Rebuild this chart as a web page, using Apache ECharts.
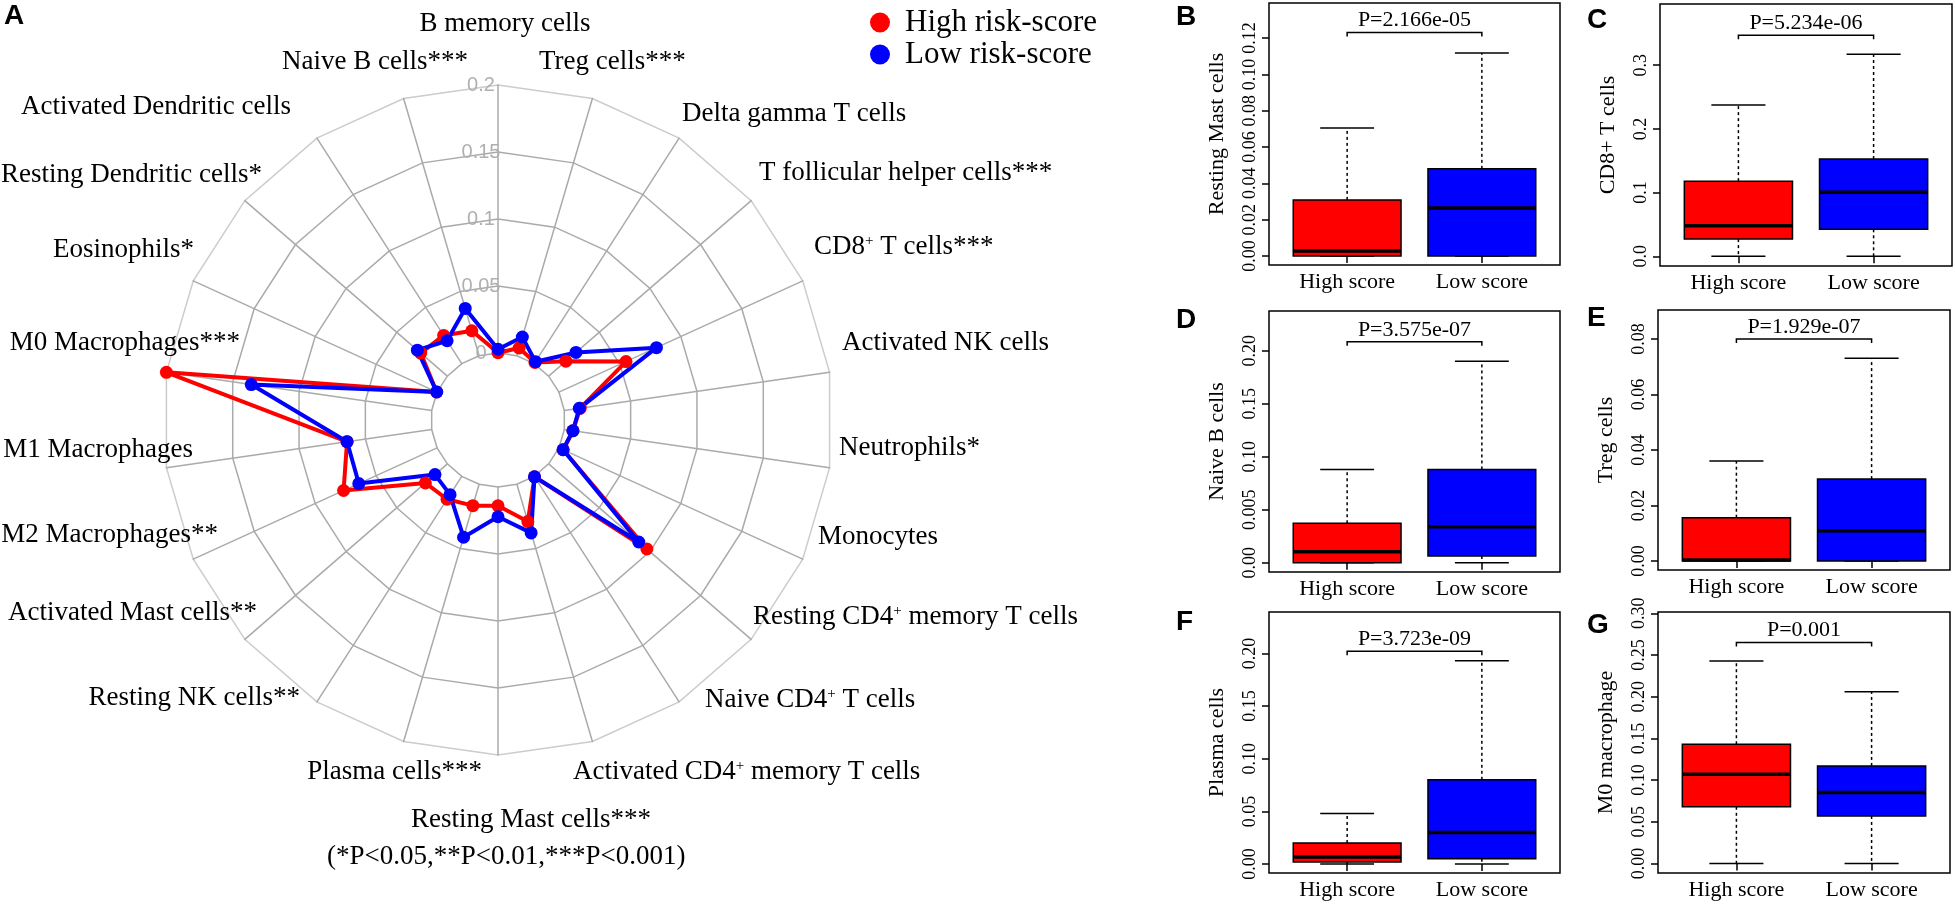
<!DOCTYPE html>
<html><head><meta charset="utf-8">
<script src="https://cdn.jsdelivr.net/npm/echarts@6/dist/echarts.min.js"></script>
<style>html,body{margin:0;padding:0;background:#fff;} #c{width:1955px;height:910px;}</style>
</head><body><div id="c"></div>
<script>
// ---- Radar (panel A) data, clockwise from top ----
const cellTypes = ['B memory cells','Treg cells***','Delta gamma T cells','T follicular helper cells***','CD8+ T cells***','Activated NK cells','Neutrophils*','Monocytes','Resting CD4+ memory T cells','Naive CD4+ T cells','Activated CD4+ memory T cells','Resting Mast cells***','Plasma cells***','Resting NK cells**','Activated Mast cells**','M2 Macrophages**','M1 Macrophages','M0 Macrophages***','Eosinophils*','Resting Dendritic cells*','Activated Dendritic cells','Naive B cells***'];
const highRisk = [0.0002,0.006,0.001,0.017,0.055,0.012,0.0065,0.0034,0.097,0.0004,0.029,0.014,0.0166,0.0203,0.0217,0.0767,0.0638,0.200,0.0003,0.0263,0.025,0.0194];
const lowRisk  = [0.0028,0.0145,0.0017,0.027,0.080,0.0113,0.0065,0.0034,0.089,0.0004,0.0378,0.0222,0.0412,0.0162,0.0122,0.0642,0.0638,0.136,0.0003,0.0296,0.0203,0.0368];
const radialLabels = ['0','0.05','0.1','0.15','0.2'];
const seriesNames = ['High risk-score','Low risk-score'];
const noteText = '(*P<0.05,**P<0.01,***P<0.001)';

// ---- Boxplot panels: [min, q1, median, q3, max] for High score / Low score ----
const groups = ['High score','Low score'];
const restingMast = [[0,0,0.0028,0.0309,0.0705],[0,0,0.0264,0.048,0.1118]];
const cd8T        = [[0,0.027,0.048,0.118,0.2375],[0,0.0424,0.1005,0.1527,0.317]];
const naiveB      = [[0,0,0.0104,0.0372,0.088],[0,0.0063,0.034,0.088,0.19]];
const tregCells   = [[0,0,0.0004,0.0156,0.036],[0,0,0.0109,0.0295,0.073]];
const plasmaCells = [[0,0.002,0.0067,0.02,0.048],[0,0.005,0.03,0.08,0.193]];
const m0Macro     = [[0,0.068,0.107,0.143,0.2428],[0,0.057,0.085,0.117,0.206]];
const panelTitles = ['Resting Mast cells','CD8+ T cells','Naive B cells','Treg cells','Plasma cells','M0 macrophage'];
const pValues = ['P=2.166e-05','P=5.234e-06','P=3.575e-07','P=1.929e-07','P=3.723e-09','P=0.001'];
const bracketY = [0.123,0.347,0.2085,0.080,0.202,0.265];
const ticksB = [0,0.02,0.04,0.06,0.08,0.10,0.12];
const tickLabelsB = ['0.00','0.02','0.04','0.06','0.08','0.10','0.12'];
const ticksC = [0,0.1,0.2,0.3];
const tickLabelsC = ['0.0','0.1','0.2','0.3'];
const ticksD = [0,0.05,0.10,0.15,0.20];
const tickLabelsD = ['0.00','0.005','0.10','0.15','0.20'];
const ticksE = [0,0.02,0.04,0.06,0.08];
const tickLabelsE = ['0.00','0.02','0.04','0.06','0.08'];
const ticksF = [0,0.05,0.10,0.15,0.20];
const tickLabelsF = ['0.00','0.05','0.10','0.15','0.20'];
const ticksG = [0,0.05,0.10,0.15,0.20,0.25,0.30];
const tickLabelsG = ['0.00','0.05','0.10','0.15','0.20','0.25','0.30'];

// ---- layout / style ----
const RED = '#ff0000', BLUE = '#0000ff';
const SERIF = 'Liberation Serif';
const NAME_FS = 27;
// where each radar name sits relative to the radar centre, px (layout only):
// sides: [near-edge x, vertical centre]; top: [centre x, bottom edge]; bottom: [centre x, top edge]
const nameOffset = [[7,-382.5],[41,-358],[184,-306],[261,-247],[316,-173],[344,-77],[341,28],[320,117],[255,197],[207,280],[75,352],[33,386.5],[-16,352],[-198,278],[-241,193],[-280,115],[-305,30],[-258,-77],[-304,-170],[-236,-245],[-207,-313],[-30,-358]];

// ECharts radar runs counter-clockwise: keep first, reverse the rest
const ccw = arr => [arr[0]].concat(arr.slice(1).reverse());

const rich = {
  t:{fontFamily:SERIF, fontSize:NAME_FS, color:'#000', lineHeight:NAME_FS},
  s:{fontFamily:SERIF, fontSize:15, color:'#000', verticalAlign:'top'}
};
cellTypes.forEach((n, i) => {
  const [dx, dy] = nameOffset[i];
  const centred = (i === 0 || i === 11);
  const vh = centred ? Math.abs(dy) : Math.abs(2 * dy);
  rich['h' + i] = {fontSize:NAME_FS, lineHeight:NAME_FS, width: centred ? Math.abs(2 * dx) : Math.abs(dx)};
  rich['v' + i] = {fontSize:4, height:vh, lineHeight:vh};
});
function nameFormatter(name) {
  const i = cellTypes.indexOf(name);
  const [dx, dy] = nameOffset[i];
  const parts = name.split('+');
  let line = parts.length > 1 ? '{t|' + parts[0] + '}{s|+}{t|' + parts[1] + '}' : '{t|' + name + '}';
  const h = '{h' + i + '| }';
  if (i === 0 || i === 11) line = dx >= 0 ? h + line : line + h;
  else if (i < 11) line = h + line;
  else line = line + h;
  const v = '{v' + i + '| }';
  return dy < 0 ? line + '\n' + v : v + '\n' + line;
}

const chart = echarts.init(document.getElementById('c'));

const panels = [
  {data:restingMast, ticks:ticksB, labels:tickLabelsB, grid:{left:1269,top:3,width:291,height:262}, y:[-0.00495,0.1393]},
  {data:cd8T,        ticks:ticksC, labels:tickLabelsC, grid:{left:1660,top:4,width:292,height:262}, y:[-0.0152,0.396]},
  {data:naiveB,      ticks:ticksD, labels:tickLabelsD, grid:{left:1269,top:311,width:291,height:261}, y:[-0.0088,0.2375]},
  {data:tregCells,   ticks:ticksE, labels:tickLabelsE, grid:{left:1658,top:310,width:292,height:260}, y:[-0.00324,0.0904]},
  {data:plasmaCells, ticks:ticksF, labels:tickLabelsF, grid:{left:1269,top:612,width:291,height:261}, y:[-0.0085,0.2393]},
  {data:m0Macro,     ticks:ticksG, labels:tickLabelsG, grid:{left:1658,top:612,width:292,height:261}, y:[-0.0114,0.3016]}
];
const letterPos = {A:[4,2],B:[1176,3],C:[1587,6],D:[1176,306],E:[1587,304],F:[1176,608],G:[1587,611]};

const grids = [], xAxes = [], yAxes = [], series = [];
panels.forEach((p, i) => {
  grids.push(Object.assign({show:true, borderColor:'#000', borderWidth:1.5, backgroundColor:'transparent', containLabel:false}, p.grid));
  xAxes.push({type:'value', gridIndex:i, min:0.42, max:2.58,
    axisLine:{show:false}, splitLine:{show:false},
    axisTick:{show:true, customValues:[1,2], length:7, lineStyle:{color:'#000', width:1.5}},
    axisLabel:{show:true, customValues:[1,2], margin:6, color:'#000', fontFamily:SERIF, fontSize:22,
      formatter: v => groups[Math.round(v) - 1]}});
  yAxes.push({type:'value', gridIndex:i, min:p.y[0], max:p.y[1],
    name: panelTitles[i], nameLocation:'middle', nameGap:41,
    nameTextStyle:{color:'#000', fontFamily:SERIF, fontSize:22},
    axisLine:{show:false}, splitLine:{show:false},
    axisTick:{show:true, customValues:p.ticks, length:7, lineStyle:{color:'#000', width:1.5}},
    axisLabel:{show:true, customValues:p.ticks, rotate:90, margin:10, color:'#000', fontFamily:SERIF, fontSize:18,
      formatter: v => { const k = p.ticks.findIndex(t => Math.abs(t - v) < 1e-9); return k >= 0 ? p.labels[k] : ''; }}});
  const boxColors = [RED, BLUE];
  series.push({type:'custom', xAxisIndex:i, yAxisIndex:i, silent:true,
    data: p.data.map((s, k) => [k + 1].concat(s)),
    encode:{x:0, y:[1,2,3,4,5]},
    renderItem: (params, api) => {
      const x = api.value(0), mn = api.value(1), q1 = api.value(2), md = api.value(3), q3 = api.value(4), mx = api.value(5);
      const c = (a, b) => api.coord([a, b]);
      const bw = 0.4, cw = 0.2;
      const ln = (a, b, st) => ({type:'line', shape:{x1:a[0], y1:a[1], x2:b[0], y2:b[1]}, style:st});
      const solid = {stroke:'#000', lineWidth:1.5};
      const dashed = {stroke:'#000', lineWidth:1.5, lineDash:[3,3]};
      const bl = c(x - bw, q1), tr = c(x + bw, q3);
      return {type:'group', children:[
        ln(c(x, q3), c(x, mx), dashed),
        ln(c(x, q1), c(x, mn), dashed),
        ln(c(x - cw, mx), c(x + cw, mx), solid),
        ln(c(x - cw, mn), c(x + cw, mn), solid),
        {type:'rect', shape:{x:bl[0], y:tr[1], width:tr[0] - bl[0], height:bl[1] - tr[1]}, style:{fill:boxColors[params.dataIndex], stroke:'#000', lineWidth:1.5}},
        ln(c(x - bw, md), c(x + bw, md), {stroke:'#000', lineWidth:3.5})
      ]};
    }});
  series.push({type:'custom', xAxisIndex:i, yAxisIndex:i, silent:true,
    data:[[1.5, bracketY[i]]], encode:{x:0, y:1},
    renderItem: (params, api) => {
      const yb = api.value(1);
      const a = api.coord([1, yb]), b = api.coord([2, yb]), m = api.coord([1.5, yb]);
      return {type:'group', children:[
        {type:'polyline', shape:{points:[[a[0], a[1] + 4], a, b, [b[0], b[1] + 4]]}, style:{stroke:'#000', lineWidth:1.5, fill:null}},
        {type:'text', x:m[0], y:m[1] - 12, style:{text:pValues[i], fill:'#000', font:'22px "Liberation Serif"', align:'center', verticalAlign:'middle'}}
      ]};
    }});
});

// radar series (red first, blue on top)
[highRisk, lowRisk].forEach((vals, k) => {
  const col = k === 0 ? RED : BLUE;
  series.push({type:'radar', radarIndex:0, name:seriesNames[k], symbol:'circle', symbolSize:13,
    lineStyle:{color:col, width:4}, itemStyle:{color:col},
    data:[{name:seriesNames[k], value:ccw(vals)}]});
});

const titles = Object.keys(letterPos).map(L => ({text:L, left:letterPos[L][0], top:letterPos[L][1], padding:0,
  textStyle:{fontFamily:'Liberation Sans', fontWeight:'bold', fontSize:28, color:'#000'}}));
titles.push({text:noteText, left:327, top:843, padding:0,
  textStyle:{fontFamily:SERIF, fontWeight:'normal', fontSize:27, color:'#000'}});

chart.setOption({
  backgroundColor:'#fff',
  animation:false,
  title:titles,
  legend:{orient:'vertical', left:865, top:2, icon:'circle', itemWidth:40, itemHeight:20, itemGap:1,
    textStyle:{fontFamily:SERIF, fontSize:31, color:'#000'}, data:seriesNames, selectedMode:false},
  radar:{
    center:[498, 420], radius:[67, 335], startAngle:90, shape:'polygon', splitNumber:4,
    indicator: ccw(cellTypes).map(n => ({name:n, min:0, max:0.2})),
    nameGap:-335,
    axisName:{color:'#000', fontFamily:SERIF, fontSize:NAME_FS, formatter:nameFormatter, rich:rich},
    axisLine:{lineStyle:{color:'#aaaaaa', width:1.5}},
    splitLine:{lineStyle:{color:['#aaaaaa','#aaaaaa','#aaaaaa','#aaaaaa','#cccccc'], width:1.5}},
    splitArea:{show:false},
    axisLabel:{show:false}
  },
  polar:{center:[498, 420], radius:[67, 335]},
  angleAxis:{type:'value', startAngle:90, show:false},
  radiusAxis:{type:'value', min:0, max:0.2, interval:0.05,
    axisLine:{show:false}, axisTick:{show:false}, splitLine:{show:false},
    axisLabel:{show:true, color:'#b0b0b0', fontFamily:'Liberation Sans', fontSize:20, margin:17, align:'center',
      formatter: v => radialLabels[Math.round(v / 0.05)]}},
  grid:grids, xAxis:xAxes, yAxis:yAxes, series:series
});
</script></body></html>
